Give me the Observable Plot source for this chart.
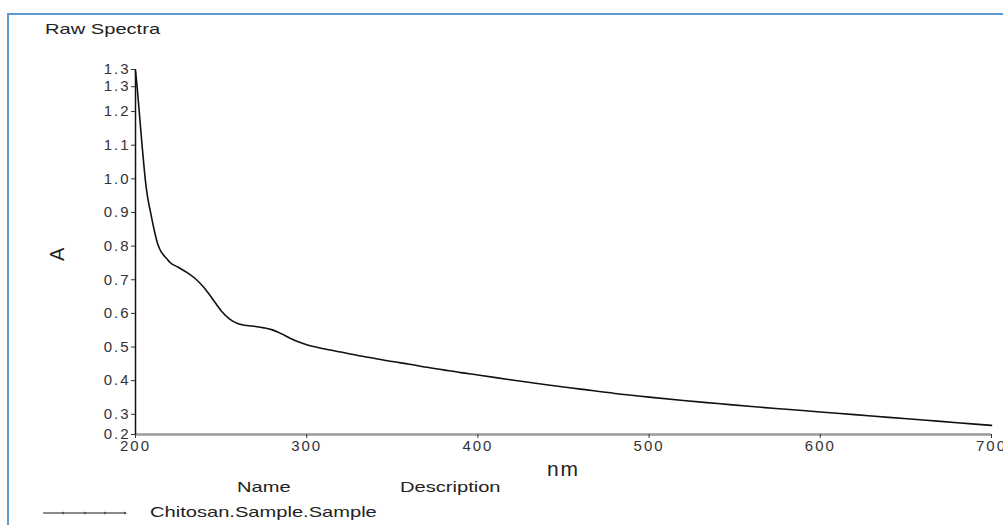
<!DOCTYPE html>
<html><head><meta charset="utf-8">
<script src="https://cdn.jsdelivr.net/npm/d3@7"></script>
<script src="https://cdn.jsdelivr.net/npm/@observablehq/plot@0.6"></script>
<style>
body{margin:0;background:#fff;}
#wrap{position:relative;width:1003px;height:525px;overflow:hidden;font-family:"Liberation Sans",Arial,sans-serif;color:#222;background:#fff;}
#frame{position:absolute;left:7px;top:13px;width:1010px;height:530px;border-left:2px solid #5b9bd5;border-top:2px solid #5b9bd5;}
.st{position:absolute;font-size:15px;transform-origin:0 0;transform:scaleX(1.34);white-space:nowrap;line-height:1;}
#chart{position:absolute;left:0;top:0;}
#leg{position:absolute;left:43px;top:508px;}
</style></head>
<body>
<div id="wrap">
  <div id="frame"></div>
  <div id="chart"></div>
  <div class="st" style="left:45px;top:21px;">Raw Spectra</div>
  <div class="st" style="left:237px;top:479px;">Name</div>
  <div class="st" style="left:400px;top:479px;">Description</div>
  <svg id="leg" width="90" height="10"></svg>
  <div class="st" style="left:150px;top:504px;">Chitosan.Sample.Sample</div>
</div>
<script>
// Data
const wavelength = [200,201,202,203,204,205,206,207,208,209,210,211,212,213,214,215,216,218,220,225,230,235,240,245,250,255,260,265,270,275,280,285,290,295,300,310,320,330,340,350,360,370,380,390,400,420,440,460,480,500,520,540,560,580,600,620,640,660,680,700];
const absorbance = [1.32,1.27,1.21,1.15,1.09,1.035,0.985,0.948,0.92,0.895,0.87,0.846,0.824,0.806,0.793,0.783,0.776,0.764,0.752,0.737,0.722,0.703,0.677,0.643,0.608,0.583,0.569,0.564,0.561,0.557,0.551,0.54,0.527,0.516,0.507,0.495,0.485,0.475,0.466,0.457,0.449,0.44,0.432,0.424,0.417,0.402,0.388,0.375,0.362,0.351,0.341,0.332,0.323,0.315,0.307,0.299,0.291,0.283,0.275,0.267];
const xDomain = [200, 700];
const yDomain = [0.24, 1.325];
const xTicks = [200, 300, 400, 500, 600, 700];
const yTicks = [0.24, 0.3, 0.4, 0.5, 0.6, 0.7, 0.8, 0.9, 1.0, 1.1, 1.2, 1.274, 1.325];
const xLabel = ["nm"];
const yLabel = ["A"];
const seriesName = "Chitosan.Sample.Sample";

const data = wavelength.map((w, i) => ({nm: w, A: absorbance[i], name: seriesName}));

const chart = Plot.plot({
  width: 1003,
  height: 480,
  marginLeft: 135,
  marginRight: 12,
  marginTop: 69,
  marginBottom: 46,
  style: {fontFamily: "'Liberation Sans', Arial, sans-serif", fontSize: "15px", color: "#333", background: "transparent"},
  x: {domain: xDomain},
  y: {domain: yDomain},
  marks: [
    Plot.ruleY([yDomain[0]], {stroke: "#9a9a9a", strokeWidth: 2.5}),
    Plot.ruleX([xDomain[0]], {stroke: "#111", strokeWidth: 1.5}),
    Plot.axisY({ticks: yTicks, tickFormat: d3.format(".1f"), tickSize: 4, tickPadding: 1, label: null, stroke: "#333"}),
    Plot.axisX({ticks: xTicks, tickFormat: d3.format("d"), tickSize: 4, tickPadding: 2, label: null, stroke: "#333"}),
    Plot.line(data, {x: "nm", y: "A", curve: "monotone-x", stroke: "#111", strokeWidth: 1.6}),
    Plot.text(xLabel, {frameAnchor: "bottom", lineAnchor: "middle", dy: 35, fontSize: 21, fill: "#222", ariaLabel: "xlabel"}),
    Plot.text(yLabel, {frameAnchor: "left", lineAnchor: "middle", dx: -78, dy: 9, rotate: -90, fontSize: 20, fill: "#222", ariaLabel: "ylabel"})
  ]
});
document.getElementById("chart").appendChild(chart);
const svg = d3.select(chart);
svg.selectAll("text").style("letter-spacing", "2px");
svg.selectAll('g[aria-label="xlabel"] text').style("letter-spacing", "5px");
svg.selectAll('g[aria-label="ylabel"] text').style("letter-spacing", "0px");

// legend sample line
const leg = d3.select("#leg");
leg.append("line").attr("x1", 0).attr("x2", 82).attr("y1", 5).attr("y2", 5).attr("stroke", "#666").attr("stroke-width", 1.5);
leg.selectAll("circle").data([20, 42, 62, 82]).join("circle").attr("cx", d => d).attr("cy", 5).attr("r", 1.3).attr("fill", "#555");
</script>
</body></html>
